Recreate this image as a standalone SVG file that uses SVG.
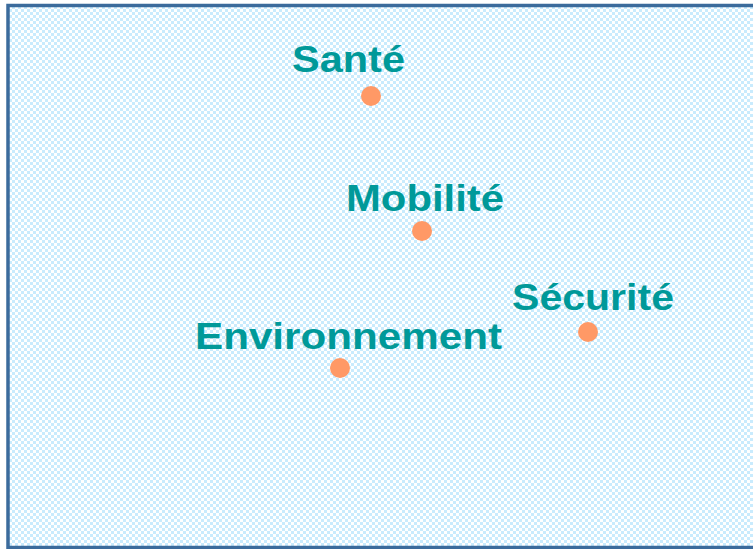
<svg xmlns="http://www.w3.org/2000/svg" width="753" height="549" viewBox="0 0 753 549">
<style>
.lbl{font-family:"Liberation Sans",Arial,sans-serif;font-weight:bold;font-size:37px;fill:#009999}
.dot{fill:#ff9966}
</style>
<defs>
<pattern id="chk" x="0" y="0" width="6" height="6" patternUnits="userSpaceOnUse">
<rect width="6" height="6" fill="#ffffff"/>
<rect width="3" height="3" fill="#c9ebfd"/>
<rect x="3" y="3" width="3" height="3" fill="#c9ebfd"/>
</pattern>
</defs>
<rect width="753" height="549" fill="#ffffff"/>
<rect x="8" y="5.5" width="750" height="542" fill="url(#chk)" stroke="#3b6b9c" stroke-width="3.5"/>
<g id="sante">
<text class="lbl" x="292" y="72" textLength="113" lengthAdjust="spacingAndGlyphs">Santé</text>
<circle class="dot" cx="371" cy="96" r="10"/>
</g>
<g id="mobilite">
<text class="lbl" x="346" y="211" textLength="158" lengthAdjust="spacingAndGlyphs">Mobilité</text>
<circle class="dot" cx="422" cy="231" r="10"/>
</g>
<g id="securite">
<text class="lbl" x="512" y="310" textLength="162" lengthAdjust="spacingAndGlyphs">Sécurité</text>
<circle class="dot" cx="588" cy="332" r="10"/>
</g>
<g id="environnement">
<text class="lbl" x="195" y="349" textLength="307" lengthAdjust="spacingAndGlyphs">Environnement</text>
<circle class="dot" cx="340" cy="368" r="10"/>
</g>
<g id="connectors"/>
</svg>
